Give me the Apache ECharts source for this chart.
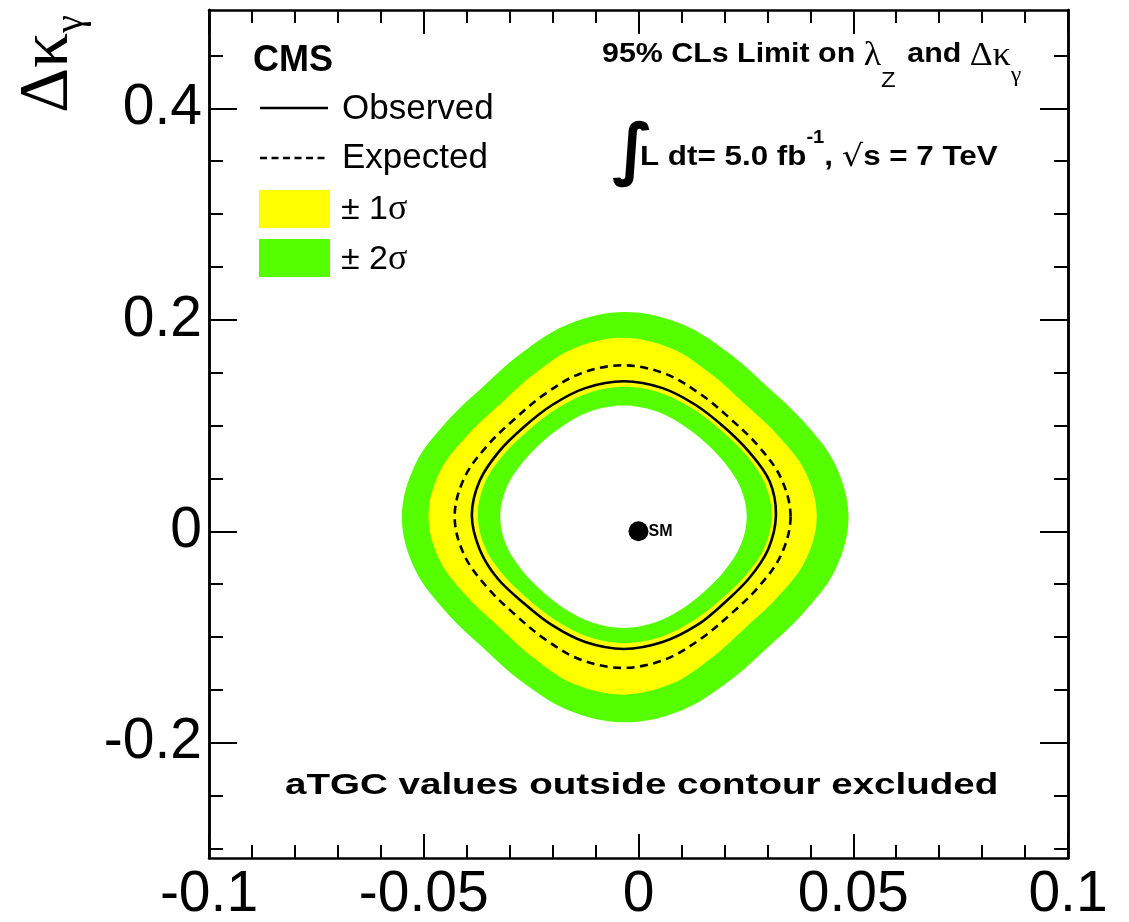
<!DOCTYPE html>
<html><head><meta charset="utf-8">
<script src="https://cdn.jsdelivr.net/npm/echarts@6/dist/echarts.min.js"></script>
<style>html,body{margin:0;padding:0;background:#fff}#c{width:1129px;height:922px}</style>
</head><body><div id="c"></div>
<script>
// ---- axis ticks / labels ----
const xTickValues = [-0.1, -0.05, 0, 0.05, 0.1];
const xTickLabels = ['-0.1', '-0.05', '0', '0.05', '0.1'];
const yTickValues = [-0.2, 0, 0.2, 0.4];
const yTickLabels = ['-0.2', '0', '0.2', '0.4'];
const yMinorValues = [-0.3, -0.25, -0.15, -0.1, -0.05, 0.05, 0.1, 0.15, 0.25, 0.3, 0.35, 0.45];
const xRange = [-0.1, 0.1];
const yRange = [-0.309, 0.493];

// ---- contours (lambda_Z, delta kappa_gamma) ----
const plus2Sigma = [[0.0489,0.0133],[0.0459,0.0623],[0.0386,0.1030],[0.0300,0.1368],[0.0210,0.1687],[0.0100,0.1960],
  [-0.0031,0.2073],[-0.0162,0.1960],[-0.0272,0.1687],[-0.0362,0.1368],[-0.0448,0.1030],[-0.0521,0.0623],
  [-0.0551,0.0133],[-0.0521,-0.0357],[-0.0448,-0.0764],[-0.0362,-0.1102],[-0.0272,-0.1421],[-0.0162,-0.1694],
  [-0.0031,-0.1807],[0.0100,-0.1694],[0.0210,-0.1421],[0.0300,-0.1102],[0.0386,-0.0764],[0.0459,-0.0357]];
const plus1Sigma = [[0.0415,0.0143],[0.0388,0.0568],[0.0322,0.0918],[0.0247,0.1205],[0.0170,0.1484],[0.0077,0.1729],
  [-0.0037,0.1831],[-0.0151,0.1729],[-0.0244,0.1484],[-0.0321,0.1205],[-0.0396,0.0918],[-0.0462,0.0568],
  [-0.0489,0.0143],[-0.0462,-0.0282],[-0.0396,-0.0632],[-0.0321,-0.0919],[-0.0244,-0.1198],[-0.0151,-0.1443],
  [-0.0037,-0.1545],[0.0077,-0.1443],[0.0170,-0.1198],[0.0247,-0.0919],[0.0322,-0.0632],[0.0388,-0.0282]];
const expected = [[0.0354,0.0139],[0.0332,0.0501],[0.0279,0.0806],[0.0215,0.1060],[0.0145,0.1295],[0.0062,0.1490],
  [-0.0037,0.1570],[-0.0136,0.1490],[-0.0219,0.1295],[-0.0289,0.1060],[-0.0353,0.0806],[-0.0406,0.0501],
  [-0.0428,0.0139],[-0.0406,-0.0223],[-0.0353,-0.0528],[-0.0289,-0.0782],[-0.0219,-0.1017],[-0.0136,-0.1212],
  [-0.0037,-0.1292],[0.0062,-0.1212],[0.0145,-0.1017],[0.0215,-0.0782],[0.0279,-0.0528],[0.0332,-0.0223]];
const observed = [[0.0320,0.0153],[0.0305,0.0475],[0.0257,0.0753],[0.0199,0.0986],[0.0134,0.1192],[0.0056,0.1354],
  [-0.0034,0.1419],[-0.0124,0.1354],[-0.0202,0.1192],[-0.0267,0.0986],[-0.0325,0.0753],[-0.0370,0.0475],
  [-0.0388,0.0153],[-0.0370,-0.0169],[-0.0328,-0.0447],[-0.0267,-0.0680],[-0.0202,-0.0886],[-0.0124,-0.1048],
  [-0.0034,-0.1113],[0.0056,-0.1048],[0.0137,-0.0886],[0.0199,-0.0680],[0.0257,-0.0447],[0.0302,-0.0169]];
const minus1Sigma = [[0.0310,0.0155],[0.0293,0.0463],[0.0249,0.0729],[0.0193,0.0951],[0.0130,0.1149],[0.0055,0.1304],
  [-0.0032,0.1366],[-0.0119,0.1304],[-0.0194,0.1149],[-0.0257,0.0951],[-0.0313,0.0729],[-0.0357,0.0463],
  [-0.0374,0.0155],[-0.0357,-0.0153],[-0.0313,-0.0419],[-0.0257,-0.0641],[-0.0194,-0.0839],[-0.0119,-0.0994],
  [-0.0032,-0.1056],[0.0055,-0.0994],[0.0130,-0.0839],[0.0193,-0.0641],[0.0249,-0.0419],[0.0293,-0.0153]];
const minus2Sigma = [[0.0252,0.0138],[0.0238,0.0406],[0.0202,0.0640],[0.0156,0.0837],[0.0102,0.1008],[0.0038,0.1139],
  [-0.0035,0.1190],[-0.0108,0.1139],[-0.0172,0.1008],[-0.0226,0.0837],[-0.0272,0.0640],[-0.0308,0.0406],
  [-0.0322,0.0138],[-0.0308,-0.0130],[-0.0272,-0.0364],[-0.0226,-0.0561],[-0.0172,-0.0732],[-0.0108,-0.0863],
  [-0.0035,-0.0914],[0.0038,-0.0863],[0.0102,-0.0732],[0.0156,-0.0561],[0.0202,-0.0364],[0.0238,-0.0130]];
const smPoint = [[0, 0]];
const smLabel = 'SM';

const legendLabels = ['Observed', 'Expected', '± 1', '± 2'];

const FONT = "'Liberation Sans', Arial, Helvetica, sans-serif";
const GREEK = "'Liberation Serif', 'DejaVu Serif', serif";
const GREEN = '#55ff00';
const YELLOW = '#ffff00';

function pick(values, labels, v) {
  for (let i = 0; i < values.length; i++) if (Math.abs(values[i] - v) < 1e-9) return labels[i];
  return '';
}

function band(name, pts, color, z) {
  return {
    type: 'custom', name: name, z: z, silent: true,
    data: [pts[0]],
    renderItem: function (params, api) {
      return {
        type: 'polygon',
        shape: { points: pts.map(function (p) { return api.coord(p); }), smooth: 0.35 },
        style: { fill: color, stroke: null }
      };
    }
  };
}
function contour(name, pts, dash, z) {
  return {
    type: 'custom', name: name, z: z, silent: true,
    data: [pts[0]],
    renderItem: function (params, api) {
      return {
        type: 'polygon',
        shape: { points: pts.map(function (p) { return api.coord(p); }), smooth: 0.35 },
        style: { fill: null, stroke: '#000', lineWidth: 2.6, lineDash: dash }
      };
    }
  };
}

const axisLineStyle = { color: '#000', width: 2.5 };
const tickStyle = { color: '#000', width: 2 };

function xAxisCfg(pos, showLabel) {
  return {
    type: 'value', position: pos, min: xRange[0], max: xRange[1], interval: 0.05,
    axisLine: { show: true, onZero: false, lineStyle: axisLineStyle },
    axisTick: { show: true, inside: true, length: 24, lineStyle: tickStyle },
    minorTick: { show: true, splitNumber: 5, length: 13, lineStyle: tickStyle },
    splitLine: { show: false }, minorSplitLine: { show: false },
    axisLabel: { show: showLabel, fontSize: 57, fontFamily: FONT, color: '#000', margin: 9,
      showMinLabel: true, showMaxLabel: true,
      formatter: function (v) { return pick(xTickValues, xTickLabels, v); } }
  };
}
function yAxisCfg(pos, values, len, showLabel) {
  return {
    type: 'value', position: pos, min: yRange[0], max: yRange[1],
    axisLine: { show: true, onZero: false, lineStyle: axisLineStyle },
    axisTick: { show: true, inside: true, length: len, lineStyle: tickStyle, customValues: values },
    splitLine: { show: false },
    axisLabel: { show: showLabel, customValues: values, fontSize: 57, fontFamily: FONT, color: '#000', margin: 7,
      formatter: function (v) { return pick(yTickValues, yTickLabels, v); } }
  };
}

const option = {
  animation: false,
  backgroundColor: '#fff',
  grid: { left: 209, right: 61, top: 10, bottom: 64, containLabel: false, outerBoundsMode: 'none' },
  xAxis: [xAxisCfg('bottom', true), xAxisCfg('top', false)],
  yAxis: [
    yAxisCfg('left', yTickValues, 28, true),
    yAxisCfg('left', yMinorValues, 14, false),
    yAxisCfg('right', yTickValues, 28, false),
    yAxisCfg('right', yMinorValues, 14, false)
  ],
  series: [
    band('+2 sigma', plus2Sigma, GREEN, 2),
    band('+1 sigma', plus1Sigma, YELLOW, 3),
    band('-1 sigma', minus1Sigma, GREEN, 4),
    band('-2 sigma', minus2Sigma, '#fff', 5),
    contour('Expected', expected, [8, 5.5], 6),
    contour('Observed', observed, null, 7),
    {
      type: 'scatter', name: 'SM', z: 8, silent: true, data: smPoint,
      symbol: 'circle', symbolSize: 20, itemStyle: { color: '#000', opacity: 1 },
      label: { show: true, position: 'right', distance: 0, formatter: smLabel,
        fontSize: 16, fontWeight: 'bold', fontFamily: FONT, color: '#000' }
    }
  ],
  graphic: [
    { type: 'text', x: 49, y: 15, rotation: Math.PI / 2, silent: true,
      style: { text: '{a|Δκ}{b|γ}', align: 'right', verticalAlign: 'middle',
        rich: { a: { fontSize: 70, lineHeight: 70, verticalAlign: 'top', fontFamily: GREEK, fill: '#000' },
                b: { fontSize: 40, lineHeight: 40, verticalAlign: 'top', padding: [37, 0, 0, 0], fontFamily: GREEK, fill: '#000' } } } },
    { type: 'text', x: 253, y: 61, silent: true,
      style: { text: 'CMS', fontSize: 36, fontWeight: 'bold', fontFamily: FONT, fill: '#000', verticalAlign: 'middle' } },
    { type: 'line', silent: true, shape: { x1: 260, y1: 108, x2: 328, y2: 108 }, style: { stroke: '#000', lineWidth: 2.5 } },
    { type: 'text', x: 342, y: 109, silent: true,
      style: { text: legendLabels[0], fontSize: 35, fontFamily: FONT, fill: '#000', verticalAlign: 'middle' } },
    { type: 'line', silent: true, shape: { x1: 260, y1: 158, x2: 328, y2: 158 }, style: { stroke: '#000', lineWidth: 2.5, lineDash: [7, 4.5] } },
    { type: 'text', x: 342, y: 158, silent: true,
      style: { text: legendLabels[1], fontSize: 35, fontFamily: FONT, fill: '#000', verticalAlign: 'middle' } },
    { type: 'rect', silent: true, shape: { x: 259, y: 190, width: 71, height: 38 }, style: { fill: YELLOW } },
    { type: 'text', x: 341, y: 210, silent: true,
      style: { text: '{n|' + legendLabels[2] + '}{g|σ}', verticalAlign: 'middle',
        rich: { n: { fontSize: 34, fontFamily: FONT, fill: '#000' }, g: { fontSize: 36, fontFamily: GREEK, fill: '#000' } } } },
    { type: 'rect', silent: true, shape: { x: 259, y: 239, width: 71, height: 38 }, style: { fill: GREEN } },
    { type: 'text', x: 341, y: 260, silent: true,
      style: { text: '{n|' + legendLabels[3] + '}{g|σ}', verticalAlign: 'middle',
        rich: { n: { fontSize: 34, fontFamily: FONT, fill: '#000' }, g: { fontSize: 36, fontFamily: GREEK, fill: '#000' } } } },
    { type: 'text', x: 602, y: 40, scaleX: 1.085, silent: true,
      style: { text: '{b|95% CLs Limit on }{g|λ}{s|Z}{b| and }{g|Δκ}{s2|γ}', align: 'left', verticalAlign: 'top',
        rich: {
          b: { fontSize: 28, fontWeight: 'bold', fontFamily: FONT, lineHeight: 30, verticalAlign: 'top', fill: '#000' },
          g: { fontSize: 33, fontFamily: GREEK, lineHeight: 30, verticalAlign: 'top', fill: '#000' },
          s: { fontSize: 22, fontFamily: FONT, lineHeight: 22, verticalAlign: 'top', padding: [30, 3, 0, 0], fill: '#000' },
          s2: { fontSize: 22, fontFamily: GREEK, lineHeight: 22, verticalAlign: 'top', padding: [24, 0, 0, 0], fill: '#000' }
        } } },
    { type: 'text', x: 612, y: 154, silent: true,
      style: { text: '∫', fontSize: 68, fontWeight: 'bold', fontFamily: "'DejaVu Sans', sans-serif", fill: '#000', verticalAlign: 'middle' } },
    { type: 'text', x: 640, y: 129, scaleX: 1.12, silent: true,
      style: { text: '{b|L dt= 5.0 fb}{sup|-1}{b|, }{r|√}{b|s = 7 TeV}', align: 'left', verticalAlign: 'top',
        rich: {
          b: { fontSize: 28, fontWeight: 'bold', fontFamily: FONT, lineHeight: 30, verticalAlign: 'top', padding: [14, 0, 0, 0], fill: '#000' },
          sup: { fontSize: 18, fontWeight: 'bold', fontFamily: FONT, lineHeight: 18, verticalAlign: 'top', fill: '#000' },
          r: { fontSize: 30, fontFamily: "'DejaVu Sans', sans-serif", lineHeight: 30, verticalAlign: 'top', padding: [14, 0, 0, 0], fill: '#000' }
        } } },
    { type: 'text', x: 285, y: 786, scaleX: 1.285, silent: true,
      style: { text: 'aTGC values outside contour excluded', fontSize: 30, fontWeight: 'bold', fontFamily: FONT, fill: '#000', verticalAlign: 'middle' } }
  ]
};

const chart = echarts.init(document.getElementById('c'));
chart.setOption(option);
</script>
</body></html>
